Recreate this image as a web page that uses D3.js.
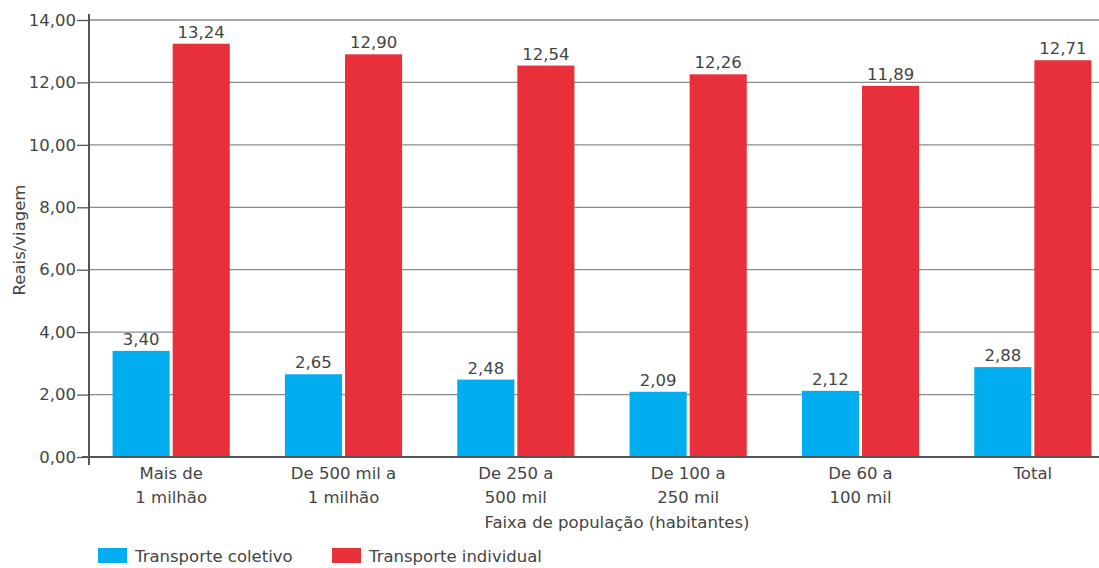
<!DOCTYPE html>
<html>
<head>
<meta charset="utf-8">
<script src="https://cdn.jsdelivr.net/npm/d3@7"></script>
<style>
  body { margin: 0; background: #fff; }
  text { font-family: "DejaVu Sans", Verdana, sans-serif; fill: #444; }
</style>
</head>
<body>
<div id="content"></div>
<script>
// data
var categories = ["Mais de|1 milhão", "De 500 mil a|1 milhão", "De 250 a|500 mil",
                  "De 100 a|250 mil", "De 60 a|100 mil", "Total"];
var series = ["Transporte coletivo", "Transporte individual"];
var coletivo = [3.40, 2.65, 2.48, 2.09, 2.12, 2.88];
var individual = [13.24, 12.90, 12.54, 12.26, 11.89, 12.71];
var yTicks = [0, 2, 4, 6, 8, 10, 12, 14];
var colors = ["#00aeef", "#e8303a"];

var W = 1099, H = 568;
var fs = '16.5px';
var svg = d3.select('#content').append('svg')
    .attr('width', W).attr('height', H);

var fmt = function(v){ return d3.format(".2f")(v).replace(".", ","); };

var y = d3.scaleLinear().domain([0, 14]).range([457, 20]);
var x0 = d3.scaleBand().domain(categories).range([85, 1119])
    .paddingInner(0.32).paddingOuter(0.16);
var x1 = d3.scaleBand().domain(series).range([0, x0.bandwidth()]).paddingInner(0.05);

// grid lines
svg.append('g')
    .selectAll('line')
    .data(yTicks.slice(1))
    .enter()
    .append('line')
    .attr('x1', 89).attr('x2', W)
    .attr('y1', function(d){ return y(d); })
    .attr('y2', function(d){ return y(d); })
    .attr('stroke', '#8a8a8a')
    .attr('stroke-width', 1.3);

// y axis
var yAxis = svg.append('g')
    .attr('transform', 'translate(89,0)')
    .call(d3.axisLeft(y).tickValues(yTicks).tickFormat(fmt).tickSize(12).tickPadding(1));
yAxis.select('.domain').remove();
yAxis.selectAll('.tick line').attr('stroke', '#555').attr('stroke-width', 1.3);
yAxis.selectAll('.tick text')
    .style('font-family', '"DejaVu Sans", Verdana, sans-serif')
    .style('font-size', fs).attr('fill', '#444');

svg.append('line')
    .attr('x1', 89).attr('x2', 89).attr('y1', 14).attr('y2', 465)
    .attr('stroke', '#555').attr('stroke-width', 2);

// bars
var rows = categories.map(function(c, i){
    return { cat: c, vals: [coletivo[i], individual[i]] };
});
var groups = svg.append('g')
    .selectAll('g')
    .data(rows)
    .enter()
    .append('g')
    .attr('transform', function(d){ return 'translate(' + x0(d.cat) + ',0)'; });

groups.selectAll('rect')
    .data(function(d){ return d.vals.map(function(v, j){ return { s: series[j], v: v, j: j }; }); })
    .enter()
    .append('rect')
    .attr('x', function(d){ return x1(d.s); })
    .attr('width', x1.bandwidth())
    .attr('y', function(d){ return y(d.v); })
    .attr('height', function(d){ return y(0) - y(d.v); })
    .attr('fill', function(d){ return colors[d.j]; });

groups.selectAll('text')
    .data(function(d){ return d.vals.map(function(v, j){ return { s: series[j], v: v }; }); })
    .enter()
    .append('text')
    .attr('x', function(d){ return x1(d.s) + x1.bandwidth() / 2; })
    .attr('y', function(d){ return y(d.v) - 6; })
    .attr('text-anchor', 'middle')
    .style('font-size', fs)
    .text(function(d){ return fmt(d.v); });

// x axis line
svg.append('line')
    .attr('x1', 82).attr('x2', W).attr('y1', y(0)).attr('y2', y(0))
    .attr('stroke', '#555').attr('stroke-width', 2);

// category labels
var catText = svg.append('g')
    .selectAll('text')
    .data(categories)
    .enter()
    .append('text')
    .attr('text-anchor', 'middle')
    .style('font-size', fs)
    .attr('transform', function(d){ return 'translate(' + (x0(d) + x0.bandwidth() / 2) + ',479)'; });
catText.selectAll('tspan')
    .data(function(d){ return d.split('|'); })
    .enter()
    .append('tspan')
    .attr('x', 0)
    .attr('dy', function(d, i){ return i ? 24 : 0; })
    .text(function(d){ return d; });

// axis titles
svg.append('text')
    .attr('x', 617).attr('y', 528)
    .attr('text-anchor', 'middle')
    .style('font-size', fs)
    .text('Faixa de população (habitantes)');

svg.append('text')
    .attr('transform', 'translate(25,240) rotate(-90)')
    .attr('text-anchor', 'middle')
    .style('font-size', fs)
    .text('Reais/viagem');

// legend
var legX = [98, 332];
var leg = svg.append('g')
    .selectAll('g')
    .data(series)
    .enter()
    .append('g')
    .attr('transform', function(d, i){ return 'translate(' + legX[i] + ',548)'; });
leg.append('rect')
    .attr('width', 29).attr('height', 15)
    .attr('fill', function(d, i){ return colors[i]; });
leg.append('text')
    .attr('x', 37).attr('y', 14)
    .style('font-size', fs)
    .text(function(d){ return d; });
</script>
</body>
</html>
